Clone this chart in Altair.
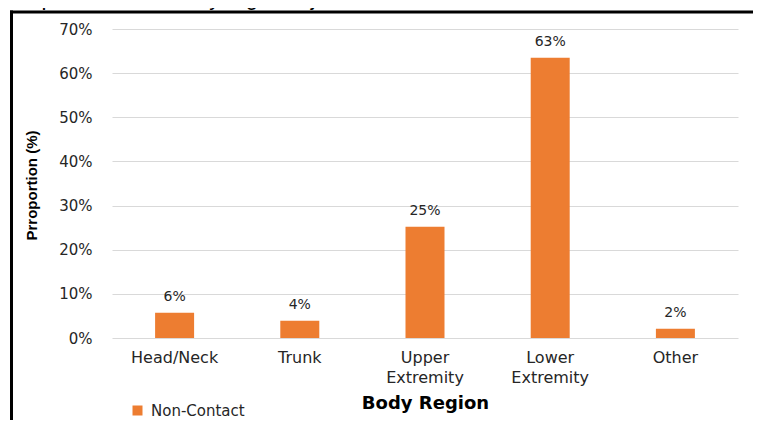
import altair as alt
import pandas as pd

categories = ["Head/Neck", "Trunk", "Upper|Extremity", "Lower|Extremity", "Other"]
values = [5.7, 3.9, 25.2, 63.5, 2.1]
labels = ["6%", "4%", "25%", "63%", "2%"]
series = ["Non-Contact"] * 5
y_ticks = [0, 10, 20, 30, 40, 50, 60, 70]

df = pd.DataFrame({"region": categories, "value": values, "label": labels, "series": series})

W, H = 626, 309
FONT = "DejaVu Sans"
ORANGE = "#ED7D31"

base = alt.Chart(df)

x_enc = alt.X(
    "region:N",
    sort=categories,
    scale=alt.Scale(paddingInner=0.69, paddingOuter=0.345),
    axis=alt.Axis(
        title="Body Region",
        labelExpr="split(datum.label, '|')",
        labelAngle=0,
        labelFont=FONT,
        labelFontSize=16,
        labelColor="#262626",
        labelPadding=11,
        labelLineHeight=20,
        ticks=False,
        domain=False,
        titleFont=FONT,
        titleFontSize=18,
        titleFontWeight="bold",
        titleColor="#000000",
        titleX=313,
        titleY=65,
        titleBaseline="middle",
        titleAlign="center",
    ),
)

y_enc = alt.Y(
    "value:Q",
    scale=alt.Scale(domain=[0, 70], nice=False),
    axis=alt.Axis(
        title="Prroportion (%)",
        values=y_ticks,
        labelExpr="datum.value + '%'",
        labelFont=FONT,
        labelFontSize=15,
        labelColor="#262626",
        labelPadding=20,
        ticks=False,
        domain=False,
        grid=True,
        gridColor="#D9D9D9",
        gridWidth=1,
        titleFont="Liberation Sans",
        titleFontSize=15,
        titleFontWeight="bold",
        titleColor="#000000",
        titleAngle=-90,
        titleX=-81,
        titleY=156,
        titleBaseline="middle",
        titleAlign="center",
    ),
)

bars = base.mark_bar(size=39).encode(
    x=x_enc,
    y=y_enc,
    color=alt.Color(
        "series:N",
        scale=alt.Scale(range=[ORANGE]),
        legend=alt.Legend(
            title=None,
            orient="none",
            legendX=18,
            legendY=374,
            symbolType="square",
            symbolSize=100,
            symbolStrokeWidth=0,
            labelFont=FONT,
            labelFontSize=15,
            labelColor="#262626",
            labelOffset=6,
        ),
    ),
)

text = base.mark_text(dy=-9, font=FONT, fontSize=14, color="#262626", baseline="bottom").encode(
    x=alt.X("region:N", sort=categories),
    y="value:Q",
    text="label:N",
)

frame_df = pd.DataFrame({"k": [0]})
border_top = alt.Chart(frame_df).mark_rule(color="#000000", strokeWidth=3).encode(
    x=alt.value(-102), x2=alt.value(700), y=alt.value(-17)
)
border_left = alt.Chart(frame_df).mark_rule(color="#000000", strokeWidth=3).encode(
    x=alt.value(-100.5), y=alt.value(-18.5), y2=alt.value(450)
)

caption = alt.Chart(frame_df).mark_text(
    align="left", baseline="alphabetic", font="Liberation Sans", fontSize=22, color="#000000"
).encode(
    x=alt.value(-112), y=alt.value(-24), text=alt.value("compared to other boy region injuries.")
)

chart = (
    alt.layer(bars, text, border_top, border_left, caption)
    .properties(
        width=W,
        height=H,
        autosize=alt.AutoSizeParams(type="none"),
        padding={"left": 104, "top": 21, "right": 15, "bottom": 82},
    )
    .configure_view(stroke=None)
)

chart.save("out.html", embed_options={"renderer": "svg", "actions": False})
